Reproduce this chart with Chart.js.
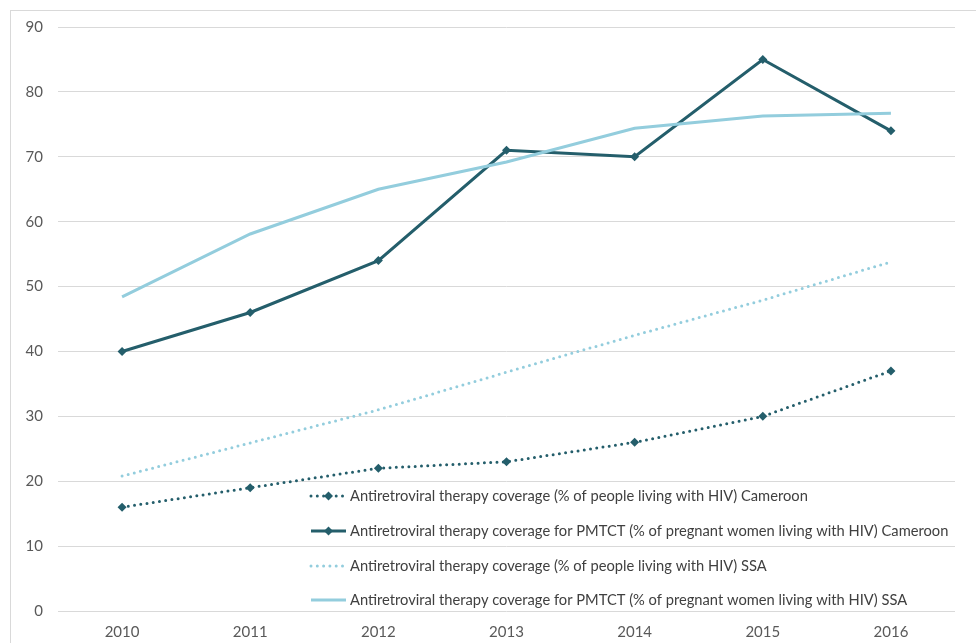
<!DOCTYPE html>
<html>
<head>
<meta charset="utf-8">
<script src="https://cdn.jsdelivr.net/npm/chart.js@4.4.1/dist/chart.umd.min.js"></script>
<style>
    html, body { margin: 0; padding: 0; background: #fff; }
    #wrap { position: relative; width: 976px; height: 643px; overflow: hidden; }
    #frame { position: absolute; left: 10px; top: 10px; width: 1000px; height: 700px;
             border-left: 1px solid #d9d9d9; border-top: 1px solid #d9d9d9; }
    canvas { position: absolute; left: 0; top: 0; }
</style>
</head>
<body>
<div id="wrap">
    <div id="frame"></div>
    <canvas id="chart" width="976" height="643"></canvas>
</div>
<script>
const years = ['2010', '2011', '2012', '2013', '2014', '2015', '2016'];

const artCameroon = [16, 19, 22, 23, 26, 30, 37];
const pmtctCameroon = [40, 46, 54, 71, 70, 85, 74];
const artSSA = [20.8, 25.9, 31.0, 36.8, 42.5, 47.9, 53.8];
const pmtctSSA = [48.4, 58.1, 65.0, 69.2, 74.4, 76.3, 76.7];

const seriesLabels = [
    'Antiretroviral therapy coverage (% of people living with HIV) Cameroon',
    'Antiretroviral therapy coverage for PMTCT (% of pregnant women living with HIV) Cameroon',
    'Antiretroviral therapy coverage (% of people living with HIV) SSA',
    'Antiretroviral therapy coverage for PMTCT (% of pregnant women living with HIV) SSA'
];

const DARK = '#245e6b';
const LIGHT = '#93cddd';
const FONT = 'Lato, "Liberation Sans", sans-serif';

// legend sits inside the plot, one entry per row
const insideLegend = {
    id: 'insideLegend',
    afterDraw(chart) {
        const ctx = chart.ctx;
        const x0 = 311, x1 = 346, textX = 350;
        const rows = [496, 531, 566, 600];
        ctx.save();
        ctx.font = '14.7px ' + FONT;
        ctx.textBaseline = 'middle';
        chart.data.datasets.forEach((ds, i) => {
            const y = rows[i];
            ctx.strokeStyle = ds.borderColor;
            ctx.lineWidth = ds.borderWidth;
            ctx.lineCap = ds.borderDash.length ? 'round' : 'butt';
            ctx.setLineDash(ds.borderDash);
            ctx.beginPath();
            ctx.moveTo(x0, y);
            ctx.lineTo(x1, y);
            ctx.stroke();
            ctx.setLineDash([]);
            if (ds.pointRadius > 0) {
                const r = ds.pointRadius;
                const cx = (x0 + x1) / 2;
                ctx.fillStyle = ds.borderColor;
                ctx.beginPath();
                ctx.moveTo(cx, y - r);
                ctx.lineTo(cx + r, y);
                ctx.lineTo(cx, y + r);
                ctx.lineTo(cx - r, y);
                ctx.closePath();
                ctx.fill();
            }
            ctx.fillStyle = '#404040';
            ctx.fillText(seriesLabels[i], textX, y);
        });
        ctx.restore();
    }
};

new Chart(document.getElementById('chart'), {
    type: 'line',
    data: {
        labels: years,
        datasets: [
            {
                label: seriesLabels[0],
                data: artCameroon,
                borderColor: DARK,
                backgroundColor: DARK,
                borderWidth: 3,
                borderDash: [0, 6.3],
                borderCapStyle: 'round',
                pointStyle: 'rectRot',
                pointRadius: 4.5,
                pointBorderWidth: 0,
                order: 4
            },
            {
                label: seriesLabels[1],
                data: pmtctCameroon,
                borderColor: DARK,
                backgroundColor: DARK,
                borderWidth: 3,
                borderDash: [],
                pointStyle: 'rectRot',
                pointRadius: 4.5,
                pointBorderWidth: 0,
                order: 3
            },
            {
                label: seriesLabels[2],
                data: artSSA,
                borderColor: LIGHT,
                backgroundColor: LIGHT,
                borderWidth: 3,
                borderDash: [0, 6.3],
                borderCapStyle: 'round',
                pointRadius: 0,
                order: 2
            },
            {
                label: seriesLabels[3],
                data: pmtctSSA,
                borderColor: LIGHT,
                backgroundColor: LIGHT,
                borderWidth: 3,
                borderDash: [],
                pointRadius: 0,
                order: 1
            }
        ]
    },
    options: {
        responsive: false,
        animation: false,
        events: [],
        layout: { padding: { left: 0, right: 21, top: 27, bottom: 0 } },
        plugins: {
            legend: { display: false },
            tooltip: { enabled: false }
        },
        scales: {
            x: {
                offset: true,
                grid: { display: false, drawTicks: false },
                border: { display: false },
                ticks: { color: '#595959', font: { family: FONT, size: 15 }, padding: 12 },
                afterFit(scale) { scale.height = 32; }
            },
            y: {
                min: 0,
                max: 90,
                ticks: { stepSize: 10, color: '#595959', font: { family: FONT, size: 15 }, padding: 15 },
                grid: { color: '#d9d9d9', lineWidth: 1, drawTicks: false },
                border: { display: false },
                afterFit(scale) { scale.width = 58; }
            }
        }
    },
    plugins: [insideLegend]
});
</script>
</body>
</html>
